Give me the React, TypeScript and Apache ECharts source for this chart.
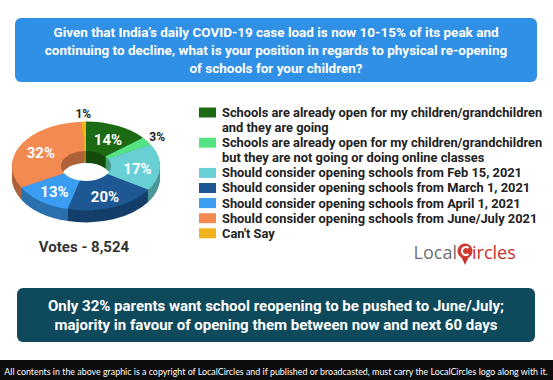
import React, { useEffect, useRef } from "react";
import * as echarts from "echarts";

const categories = [
  "Schools are already open for my children/grandchildren\nand they are going",
  "Schools are already open for my children/grandchildren\nbut they are not going or doing online classes",
  "Should consider opening schools from Feb 15, 2021",
  "Should consider opening schools from March 1, 2021",
  "Should consider opening schools from April 1, 2021",
  "Should consider opening schools from June/July 2021",
  "Can't Say",
];
const values = [14, 3, 17, 20, 13, 32, 1];
const colors = ["#1d6a14", "#55e483", "#68d0d4", "#1d5894", "#3a9df2", "#f38a52", "#f2b21c"];
const titleText =
  "Given that India\u2019s daily COVID-19 case load is now 10-15% of its peak and\ncontinuing to decline, what is your position in regards to physical re-opening\nof schools for your children?";
const votesText = "Votes - 8,524";
const footnoteText =
  "Only 32% parents want school reopening to be pushed to June/July;\nmajority in favour of opening them between now and next 60 days";
const copyrightText =
  "All contents in the above graphic is a copyright of LocalCircles and if published or broadcasted, must carry the LocalCircles logo along with it.";

function darken(hex: string, f: number) {
  const n = parseInt(hex.slice(1), 16);
  const r = Math.round(((n >> 16) & 255) * f);
  const g = Math.round(((n >> 8) & 255) * f);
  const b = Math.round((n & 255) * f);
  return `rgb(${r},${g},${b})`;
}

const CX = 86;
const CY = 166;
const R = 74;
const R0 = 25;
const SY = 0.6;
const DEPTH = 12;
const FONT = "Roboto, 'Noto Sans', sans-serif";

export default function App() {
  const ref = useRef<HTMLDivElement>(null);
  useEffect(() => {
    document.body.style.margin = "0";
    const chart = echarts.init(ref.current!, null, { renderer: "svg" });
    const total = values.reduce((a, b) => a + b, 0);
    const cums: number[] = [];
    values.reduce((acc, v, i) => {
      cums[i] = acc;
      return acc + v;
    }, 0);
    const angles = (i: number, v: number) => {
      const s = -Math.PI / 2 + (cums[i] / total) * Math.PI * 2;
      const e = s + (v / total) * Math.PI * 2;
      return [s, e];
    };

    const sideRender = (params: any, api: any) => {
      const i = params.dataIndex;
      const v = api.value(0);
      const [s, e] = angles(i, v);
      const children: any[] = [];
      for (let off = DEPTH; off >= 1; off--) {
        children.push({
          type: "group",
          x: CX,
          y: CY + off,
          scaleY: SY,
          z2: DEPTH - off,
          children: [
            {
              type: "sector",
              z2: DEPTH - off,
              shape: { cx: 0, cy: 0, r: R, r0: R0, startAngle: s, endAngle: e, clockwise: true },
              style: { fill: darken(colors[i], 0.72) },
            },
          ],
        });
      }
      return { type: "group", children };
    };

    const topRender = (params: any, api: any) => {
      const i = params.dataIndex;
      const v = api.value(0);
      const [s, e] = angles(i, v);
      const mid = (s + e) / 2;
      const inside = v >= 10;
      const lr = inside ? (R + R0) / 2 + 2 : R + 12;
      const lx = CX + lr * Math.cos(mid);
      const ly = CY + lr * SY * Math.sin(mid) + (inside ? 2 : 0);
      return {
        type: "group",
        children: [
          {
            type: "group",
            x: CX,
            y: CY,
            scaleY: SY,
            children: [
              {
                type: "sector",
                shape: { cx: 0, cy: 0, r: R, r0: R0, startAngle: s, endAngle: e, clockwise: true },
                style: { fill: colors[i] },
              },
            ],
          },
          {
            type: "text",
            x: lx,
            y: ly,
            z2: 100,
            style: {
              text: `${v}%`,
              fill: inside ? "#ffffff" : "#222222",
              font: `bold ${inside ? 15 : 12}px ${FONT}`,
              align: "center",
              verticalAlign: "middle",
            },
          },
        ],
      };
    };

    const LEG_X = 199;
    const LEG_Y0 = 112.5;
    const LH = 15.1;
    const legend: any[] = [];
    let line = 0;
    categories.forEach((c, i) => {
      const y = LEG_Y0 + line * LH;
      legend.push({
        type: "rect",
        shape: { x: LEG_X, y: y - 5, width: 17, height: 10 },
        style: { fill: colors[i] },
      });
      legend.push({
        type: "text",
        x: 222,
        y: y - LH / 2,
        style: {
          text: c,
          fill: "#222222",
          font: `bold 12.85px ${FONT}`,
          lineHeight: LH,
          verticalAlign: "top",
        },
      });
      line += c.split("\n").length;
    });

    chart.setOption({
      animation: false,
      backgroundColor: "#ffffff",
      series: [
        { type: "custom", coordinateSystem: "none", z: 1, data: values.map((v) => [v]), renderItem: sideRender },
        { type: "custom", coordinateSystem: "none", z: 2, data: values.map((v) => [v]), renderItem: topRender },
      ],
      graphic: [
        {
          type: "rect",
          shape: { x: 15, y: 18, width: 522, height: 64, r: 6 },
          style: { fill: "#2f90e6" },
        },
        {
          type: "text",
          x: 276,
          y: 50,
          style: {
            text: titleText,
            fill: "#ffffff",
            font: `bold 13.5px ${FONT}`,
            lineHeight: 18,
            align: "center",
            verticalAlign: "middle",
          },
        },
        ...legend,
        {
          type: "text",
          x: 84,
          y: 247,
          style: {
            text: votesText,
            fill: "#333333",
            font: `bold 15px ${FONT}`,
            align: "center",
            verticalAlign: "middle",
          },
        },
        {
          type: "text",
          x: 457,
          y: 252,
          style: { text: "Local", fill: "#707070", font: `18px 'Open Sans', sans-serif`, align: "right", verticalAlign: "middle" },
        },
        { type: "polygon", shape: { points: [[461, 256], [469, 256], [465, 265]] }, style: { fill: "#c9302c" } },
        { type: "circle", shape: { cx: 465, cy: 251, r: 7.5 }, style: { fill: "#d23a2f" } },
        { type: "arc", shape: { cx: 466, cy: 251, r: 4, startAngle: 0.9, endAngle: 5.4, clockwise: true }, style: { stroke: "#ffffff", lineWidth: 2.2, fill: "none" } },
        {
          type: "text",
          x: 472,
          y: 252,
          style: { text: "ircles", fill: "#c9302c", font: `18px 'Open Sans', sans-serif`, align: "left", verticalAlign: "middle" },
        },
        {
          type: "rect",
          shape: { x: 17, y: 288, width: 518, height: 54, r: 6 },
          style: { fill: "#0f4a5c" },
        },
        {
          type: "text",
          x: 276,
          y: 315,
          style: {
            text: footnoteText,
            fill: "#ffffff",
            font: `bold 15px ${FONT}`,
            lineHeight: 19,
            align: "center",
            verticalAlign: "middle",
          },
        },
        { type: "rect", shape: { x: 0, y: 360, width: 553, height: 20 }, style: { fill: "#0c0c0c" } },
        {
          type: "text",
          x: 276,
          y: 371,
          style: {
            text: copyrightText,
            fill: "#ffffff",
            font: `8.9px Lato, sans-serif`,
            align: "center",
            verticalAlign: "middle",
          },
        },
      ],
    });
    return () => chart.dispose();
  }, []);
  return <div ref={ref} style={{ width: 553, height: 380 }} />;
}
